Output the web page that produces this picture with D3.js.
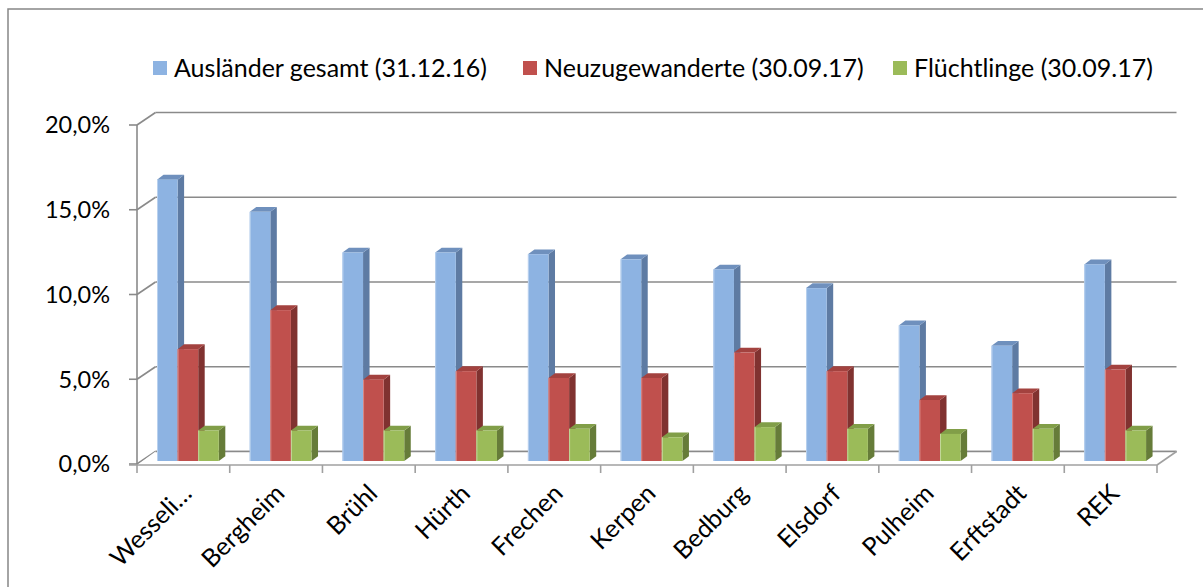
<!DOCTYPE html>
<html><head><meta charset="utf-8">
<script src="https://cdn.jsdelivr.net/npm/d3@7"></script>
<style>
html,body{margin:0;padding:0;background:#fff;}
svg{display:block;}
text{font-family:Lato, "Open Sans", sans-serif;fill:#000;}
</style></head>
<body>
<svg id="chart" width="1203" height="587"></svg>
<script>
const categories = ["Wesseli…","Bergheim","Brühl","Hürth","Frechen","Kerpen","Bedburg","Elsdorf","Pulheim","Erftstadt","REK"];
const seriesNames = ["Ausländer gesamt (31.12.16)","Neuzugewanderte (30.09.17)","Flüchtlinge (30.09.17)"];
const auslaender = [16.6, 14.7, 12.3, 12.3, 12.2, 11.9, 11.3, 10.2, 8.0, 6.8, 11.6];
const neuzugewanderte = [6.6, 8.9, 4.8, 5.3, 4.9, 4.9, 6.4, 5.3, 3.6, 4.0, 5.4];
const fluechtlinge = [1.8, 1.8, 1.8, 1.8, 1.9, 1.4, 2.0, 1.9, 1.6, 1.9, 1.8];
const yTicks = [0, 5, 10, 15, 20];
const yTickLabels = ["0,0%","5,0%","10,0%","15,0%","20,0%"];

const series = [auslaender, neuzugewanderte, fluechtlinge];
const colors = [
  {front:"#8DB3E2", side:"#5E7BA3", top:"#6F90BD", edge:"#B9D1EE"},
  {front:"#C0504D", side:"#803230", top:"#A3423F", edge:"#D98A88"},
  {front:"#9BBB59", side:"#667C39", top:"#819E48", edge:"#C3D89A"}
];
const legendColors = ["#8DB3E2","#C0504D","#9BBB59"];

const svg = d3.select("#chart");
const W = 1203, H = 587;

svg.append("rect").attr("x",8).attr("y",9).attr("width",W).attr("height",H)
  .attr("fill","none").attr("stroke","#878787").attr("stroke-width",1.5);

const x0 = 137, x1 = 1157;
const y = d3.scaleLinear().domain([0,20]).range([464,125]);
const x = d3.scaleBand().domain(categories).range([x0,x1]).paddingInner(0).paddingOuter(0);
const depthX = 18.5, depthY = -12.5;
const gridColor = "#8A8A8A";

const g = svg.append("g");

yTicks.forEach(t=>{
  g.append("line").attr("x1",x0+depthX).attr("x2",x1+depthX+1)
   .attr("y1",y(t)+depthY).attr("y2",y(t)+depthY)
   .attr("stroke",gridColor).attr("stroke-width",1.6);
  g.append("line").attr("x1",x0).attr("y1",y(t)).attr("x2",x0+depthX).attr("y2",y(t)+depthY)
   .attr("stroke",gridColor).attr("stroke-width",1.6);
});

g.append("path")
  .attr("d",`M${x0},${y(0)+1} L${x1},${y(0)+1} L${x1+depthX+1},${y(0)+depthY} L${x0+depthX},${y(0)+depthY}`)
  .attr("fill","#fff").attr("stroke","none");
g.append("line").attr("x1",x0+depthX).attr("x2",x1+depthX+1)
   .attr("y1",y(0)+depthY).attr("y2",y(0)+depthY)
   .attr("stroke",gridColor).attr("stroke-width",1.6);
g.append("line").attr("x1",x1).attr("y1",y(0)+1).attr("x2",x1+depthX+1).attr("y2",y(0)+depthY)
   .attr("stroke","#A0A0A0").attr("stroke-width",1.6);

const barW = 20.6, bdx = 6.5, bdy = -4.8, baseShift = -3, leftGap = 20;
categories.forEach((c,i)=>{
  series.forEach((s,k)=>{
    const v = s[i];
    const xl = x(c) + leftGap + k*barW;
    const xr = xl + barW;
    const yb = y(0) + baseShift;
    const yt = y(v) + baseShift;
    const col = colors[k];
    g.append("path").attr("d",`M${xr},${yb} L${xr+bdx},${yb+bdy} L${xr+bdx},${yt+bdy} L${xr},${yt} Z`)
      .attr("fill",col.side);
    g.append("path").attr("d",`M${xl},${yt} L${xr},${yt} L${xr+bdx},${yt+bdy} L${xl+bdx},${yt+bdy} Z`)
      .attr("fill",col.top);
    g.append("rect").attr("x",xl).attr("y",yt).attr("width",barW).attr("height",yb-yt)
      .attr("fill",col.front);
    g.append("line").attr("x1",xl+0.5).attr("x2",xl+0.5).attr("y1",yt).attr("y2",yb)
      .attr("stroke",col.edge).attr("stroke-width",1);
  });
});

g.append("line").attr("x1",x0).attr("x2",x0).attr("y1",y(20)).attr("y2",y(0)+1)
  .attr("stroke",gridColor).attr("stroke-width",1.6);
yTicks.forEach((t,i)=>{
  g.append("line").attr("x1",x0-8).attr("x2",x0).attr("y1",y(t)).attr("y2",y(t))
   .attr("stroke",gridColor).attr("stroke-width",1.6);
  g.append("text").attr("x",110).attr("y",y(t)).attr("dy","0.36em")
   .attr("text-anchor","end").attr("font-size",23.5).text(yTickLabels[i]);
});

g.append("line").attr("x1",x0-8).attr("x2",x1).attr("y1",y(0)+1).attr("y2",y(0)+1)
  .attr("stroke","#A0A0A0").attr("stroke-width",1.6);
const bounds = categories.map(c=>x(c)).concat([x1]);
bounds.forEach(b=>{
  g.append("line").attr("x1",b).attr("x2",b).attr("y1",y(0)+1).attr("y2",y(0)+9)
   .attr("stroke","#A0A0A0").attr("stroke-width",1.6);
});

categories.forEach(c=>{
  const cx = x(c) + x.bandwidth()/2;
  g.append("text").attr("text-anchor","end").attr("font-size",25)
   .attr("transform",`translate(${cx+10},${495}) rotate(-45)`)
   .text(c);
});

const legendX = [153, 523, 893];
seriesNames.forEach((n,k)=>{
  svg.append("rect").attr("x",legendX[k]).attr("y",61).attr("width",14).attr("height",14)
    .attr("fill",legendColors[k]);
  svg.append("text").attr("x",legendX[k]+21).attr("y",68).attr("dy","0.36em")
    .attr("font-size",25).text(n);
});
</script>
</body></html>
